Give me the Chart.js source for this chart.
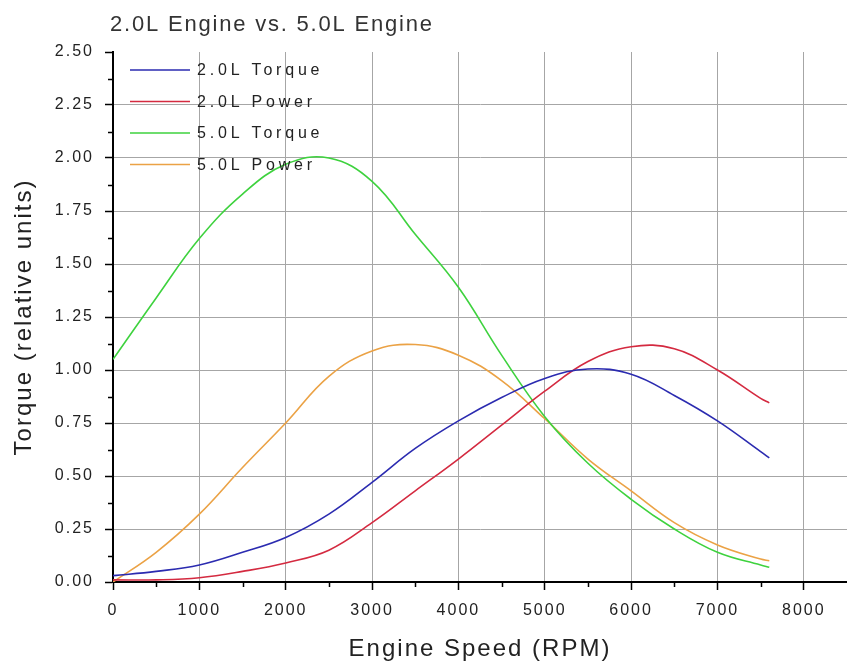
<!DOCTYPE html>
<html><head><meta charset="utf-8">
<script src="https://cdn.jsdelivr.net/npm/chart.js@4.4.1/dist/chart.umd.min.js"></script>
<style>html,body{margin:0;padding:0;background:#fff;overflow:hidden;}</style>
</head><body>
<canvas id="c" width="847" height="668"></canvas>
<script>
const chartTitle = '2.0L Engine vs. 5.0L Engine';
const xAxisTitle = 'Engine Speed (RPM)';
const yAxisTitle = 'Torque (relative units)';
const seriesNames = ['2.0L Torque', '2.0L Power', '5.0L Torque', '5.0L Power'];
const seriesColors = ['#2b2bb0', '#d42a40', '#3ed23e', '#eba245'];
const rpm        = [0,    500,  1000, 1500, 2000, 2500, 3000, 3500, 4000, 4500, 5000, 5500,  6000, 6500, 7000, 7500,  7600];
const torque20   = [0.03, 0.05, 0.08, 0.14, 0.21, 0.32, 0.47, 0.63, 0.76, 0.87, 0.96, 1.005, 0.98, 0.88, 0.76, 0.615, 0.585];
const power20    = [0.01, 0.01, 0.02, 0.05, 0.09, 0.15, 0.28, 0.43, 0.58, 0.74, 0.90, 1.04,  1.11, 1.10, 1.00, 0.866, 0.845];
const torque50   = [1.05, 1.34, 1.62, 1.83, 1.97, 2.00, 1.89, 1.64, 1.39, 1.07, 0.78, 0.56,  0.39, 0.25, 0.14, 0.08,  0.07];
const power50    = [0.00, 0.14, 0.32, 0.54, 0.75, 0.97, 1.09, 1.12, 1.07, 0.95, 0.77, 0.58,  0.43, 0.28, 0.175,0.108, 0.10];
const xTicks = [0, 1000, 2000, 3000, 4000, 5000, 6000, 7000, 8000];
const yTicks = [0, 0.25, 0.5, 0.75, 1.0, 1.25, 1.5, 1.75, 2.0, 2.25, 2.5];

const allSeries = [torque20, power20, torque50, power50];
const datasets = allSeries.map((vals, i) => ({
  label: seriesNames[i],
  data: rpm.map((r, j) => ({x: r, y: vals[j]})),
  borderColor: seriesColors[i],
  backgroundColor: seriesColors[i],
  borderWidth: 1.6,
  pointRadius: 0,
  tension: 0.4,
  fill: false
}));

const FONT = '"Liberation Sans", Arial, sans-serif';
Chart.defaults.font.family = FONT;

const spacingPlugin = {
  id: 'spacing',
  beforeDraw(chart) { chart.ctx.letterSpacing = '2px'; }
};
const titlePlugin = {
  id: 'customTitle',
  afterDraw(chart) {
    const ctx = chart.ctx;
    ctx.save();
    ctx.letterSpacing = '1.8px';
    ctx.font = '22px ' + FONT;
    ctx.fillStyle = '#333';
    ctx.textBaseline = 'alphabetic';
    ctx.textAlign = 'left';
    ctx.fillText(chartTitle, 110, 31);
    ctx.restore();
  }
};
const legendPlugin = {
  id: 'customLegend',
  afterDatasetsDraw(chart) {
    const ctx = chart.ctx;
    const a = chart.chartArea;
    ctx.save();
    ctx.letterSpacing = '3.8px';
    ctx.font = '16px ' + FONT;
    ctx.textBaseline = 'middle';
    ctx.textAlign = 'left';
    chart.data.datasets.forEach((ds, i) => {
      const y = a.top + 18 + i * 31.5;
      ctx.strokeStyle = ds.borderColor;
      ctx.lineWidth = 1.6;
      ctx.beginPath();
      ctx.moveTo(a.left + 17, y);
      ctx.lineTo(a.left + 77, y);
      ctx.stroke();
      ctx.fillStyle = '#222';
      ctx.fillText(ds.label, a.left + 84, y + 1);
    });
    ctx.restore();
  }
};
const minorTickPlugin = {
  id: 'minorTicks',
  afterDraw(chart) {
    const ctx = chart.ctx;
    const xs = chart.scales.x, ys = chart.scales.y;
    ctx.save();
    ctx.strokeStyle = '#000';
    ctx.lineWidth = 1.5;
    ctx.beginPath();
    for (let i = 0; i < xTicks.length; i++) {
      const v = xTicks[i] + 500;
      if (v >= xs.max) break;
      const p = Math.round(xs.getPixelForValue(v)) + 0.5;
      ctx.moveTo(p, xs.top);
      ctx.lineTo(p, xs.top + 5);
    }
    for (let i = 0; i < yTicks.length - 1; i++) {
      const v = (yTicks[i] + yTicks[i + 1]) / 2;
      const p = Math.round(ys.getPixelForValue(v)) + 0.5;
      ctx.moveTo(ys.right - 5, p);
      ctx.lineTo(ys.right, p);
    }
    ctx.stroke();
    ctx.restore();
  }
};

new Chart(document.getElementById('c'), {
  type: 'line',
  data: { datasets },
  plugins: [spacingPlugin, titlePlugin, legendPlugin, minorTickPlugin],
  options: {
    responsive: false,
    animation: false,
    layout: { padding: { top: 52, left: 0, right: 0, bottom: 0 } },
    plugins: { legend: { display: false }, title: { display: false }, tooltip: { enabled: false } },
    scales: {
      x: {
        type: 'linear', min: 0, max: 8500,
        afterBuildTicks: s => { s.ticks = xTicks.map(v => ({ value: v })); },
        afterFit: s => { s.height = 86; },
        ticks: { color: '#222', font: { size: 16 }, padding: 11, maxRotation: 0, autoSkip: false, callback: v => String(v) },
        grid: {
          color: c => (c.tick && c.tick.value === 0) ? 'rgba(0,0,0,0)' : '#a6a6a6',
          lineWidth: 1, tickColor: '#000', tickLength: 8, tickWidth: 1.5
        },
        border: { color: '#000', width: 2 },
        title: { display: true, text: xAxisTitle, color: '#222', font: { size: 24 }, padding: { top: 0, bottom: 4 } }
      },
      y: {
        type: 'linear', min: 0, max: 2.5,
        afterBuildTicks: s => { s.ticks = yTicks.map(v => ({ value: v })); },
        afterFit: s => { s.width = 113; },
        ticks: { color: '#222', font: { size: 16 }, padding: 11, autoSkip: false, callback: v => Number(v).toFixed(2) },
        grid: {
          color: c => (c.tick && (c.tick.value === 2.5 || c.tick.value === 0)) ? 'rgba(0,0,0,0)' : '#a6a6a6',
          lineWidth: 1, tickColor: '#000', tickLength: 8, tickWidth: 1.5
        },
        border: { color: '#000', width: 2 },
        title: { display: true, text: yAxisTitle, color: '#222', font: { size: 24 }, padding: { top: 10, bottom: 0 } }
      }
    }
  }
});
</script>
</body></html>
